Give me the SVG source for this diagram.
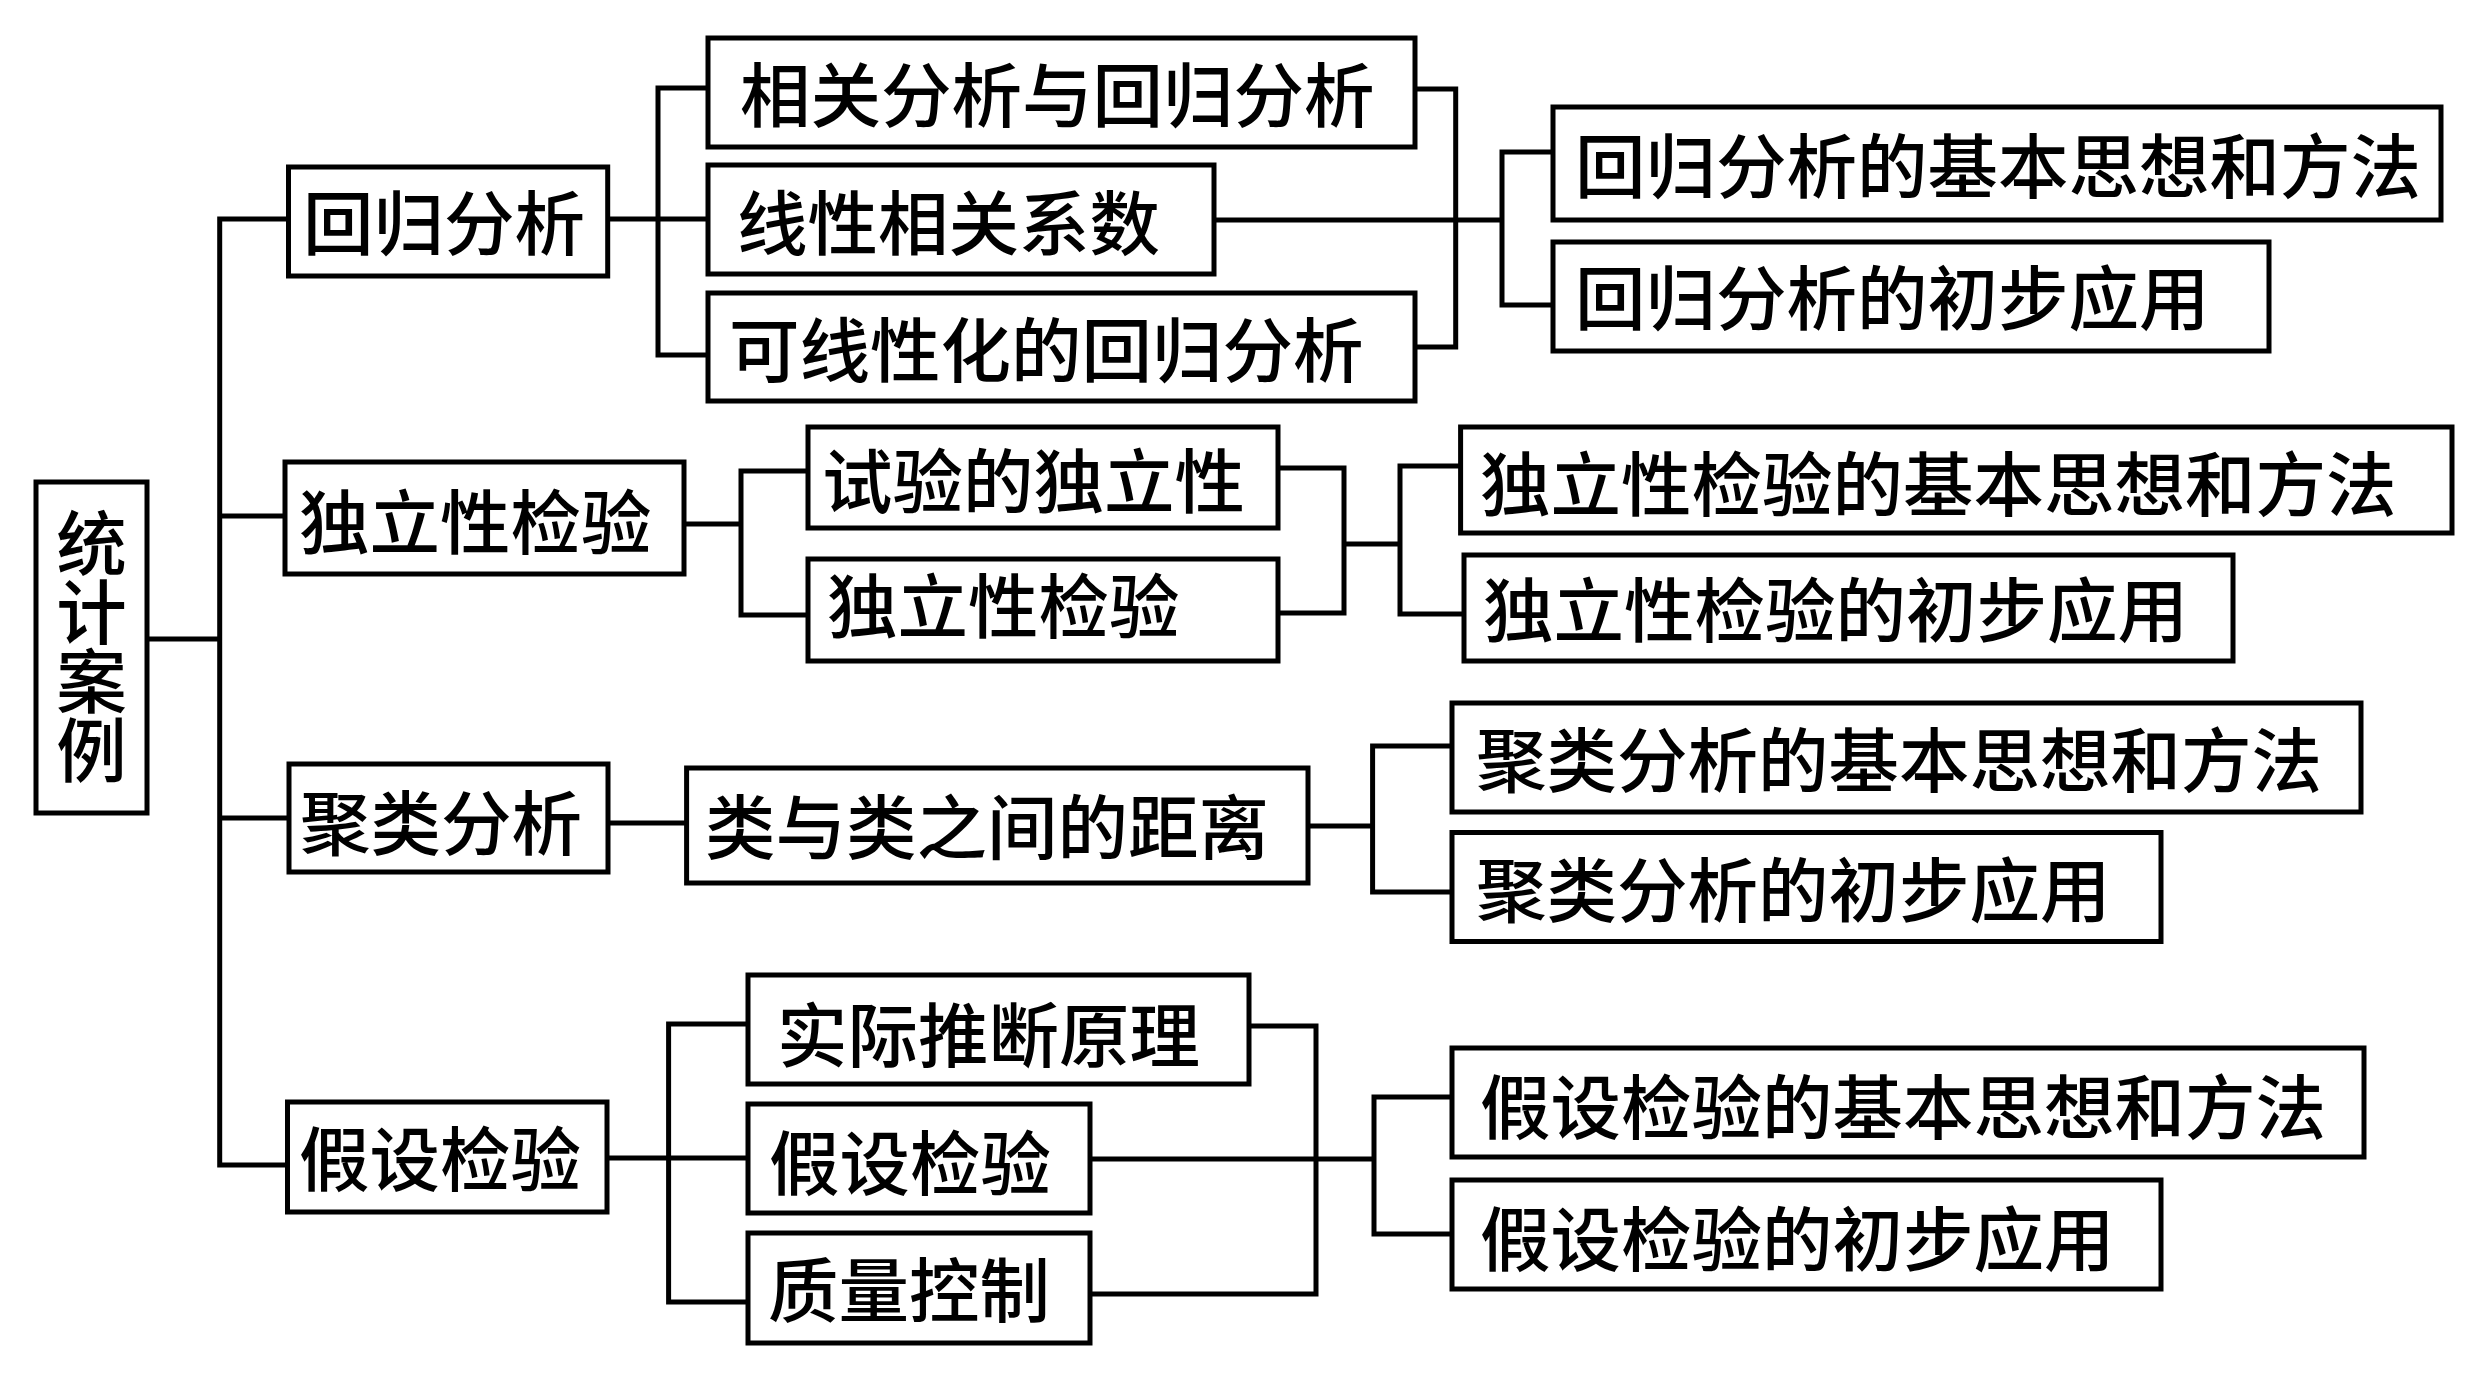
<svg xmlns="http://www.w3.org/2000/svg" width="2480" height="1380" viewBox="0 0 2480 1380">
<style>
.box{fill:#fff;stroke:#000;stroke-width:5}
.t{font-family:"Noto Sans CJK SC","Noto Sans CJK TC",sans-serif;font-size:70.5px;font-weight:500;fill:#000}
.c{fill:none;stroke:#000;stroke-width:5;stroke-linecap:square}
</style>
<rect width="2480" height="1380" fill="#fff"/>
<g id="connectors" class="c">
<path d="M219.7 219V1165M147 639H219.7M219.7 219H288.5M219.7 516H285M219.7 818H289M219.7 1165H287.5"/>
<path d="M607.7 219H708M658 88V355M658 88H708M658 355H708M1415 89H1455.7M1415 347H1455.7M1455.7 89V347M1214 220H1502M1502 152V305M1502 152H1553M1502 305H1553"/>
<path d="M684 524H741M741 471V615M741 471H808M741 615H808M1278 468H1344M1278 613H1344M1344 468V613M1344 544H1400M1400 466V614M1400 466H1460.6M1400 614H1464"/>
<path d="M608 823H686.6M1308 826H1372.6M1372.6 746V892M1372.6 746H1452M1372.6 892H1452"/>
<path d="M607 1158H748M668.6 1024V1302M668.6 1024H748M668.6 1302H748M1249 1026H1316M1090 1294H1316M1316 1026V1294M1090 1159H1374M1374 1097V1234M1374 1097H1452M1374 1234H1452"/>
</g>
<g id="n-root"><rect class="box" x="36" y="482" width="111" height="331"/>
<text class="t" x="91.5" y="508" writing-mode="vertical-rl" text-orientation="upright" letter-spacing="-1.5">统计案例</text></g>
<g id="n-huigui"><rect class="box" x="288.5" y="167" width="319.2" height="109"/><text class="t" x="303" y="250">回归分析</text></g>
<g id="n-duli"><rect class="box" x="285" y="462" width="399" height="112"/><text class="t" x="299" y="549">独立性检验</text></g>
<g id="n-julei"><rect class="box" x="289" y="764" width="319" height="108"/><text class="t" x="300" y="850">聚类分析</text></g>
<g id="n-jiashe"><rect class="box" x="287.5" y="1102" width="319.5" height="110"/><text class="t" x="299" y="1186">假设检验</text></g>
<g id="n-xiangguan"><rect class="box" x="708" y="38" width="707" height="109"/><text class="t" x="740" y="122">相关分析与回归分析</text></g>
<g id="n-xianxing"><rect class="box" x="708" y="165" width="506" height="109"/><text class="t" x="737" y="250">线性相关系数</text></g>
<g id="n-kexianxing"><rect class="box" x="708" y="293" width="707" height="108"/><text class="t" x="729" y="377">可线性化的回归分析</text></g>
<g id="n-hg-jiben"><rect class="box" x="1553" y="107" width="888" height="113"/><text class="t" x="1575" y="193">回归分析的基本思想和方法</text></g>
<g id="n-hg-chubu"><rect class="box" x="1553" y="242" width="716" height="109"/><text class="t" x="1575" y="325">回归分析的初步应用</text></g>
<g id="n-shiyan"><rect class="box" x="808" y="427" width="470" height="101"/><text class="t" x="822" y="508">试验的独立性</text></g>
<g id="n-duli2"><rect class="box" x="808" y="559" width="470" height="102"/><text class="t" x="827" y="633">独立性检验</text></g>
<g id="n-dl-jiben"><rect class="box" x="1460.6" y="427" width="991.4" height="106"/><text class="t" x="1480" y="511">独立性检验的基本思想和方法</text></g>
<g id="n-dl-chubu"><rect class="box" x="1464" y="555" width="769" height="106"/><text class="t" x="1483" y="637">独立性检验的初步应用</text></g>
<g id="n-juli"><rect class="box" x="686.6" y="768" width="621.4" height="115"/><text class="t" x="705" y="854">类与类之间的距离</text></g>
<g id="n-jl-jiben"><rect class="box" x="1452" y="703" width="909" height="109"/><text class="t" x="1476" y="787">聚类分析的基本思想和方法</text></g>
<g id="n-jl-chubu"><rect class="box" x="1452" y="832.5" width="709" height="109"/><text class="t" x="1476" y="917">聚类分析的初步应用</text></g>
<g id="n-shiji"><rect class="box" x="748" y="975" width="501" height="109"/><text class="t" x="777" y="1062">实际推断原理</text></g>
<g id="n-jiashe2"><rect class="box" x="748" y="1104" width="342" height="109"/><text class="t" x="769" y="1190">假设检验</text></g>
<g id="n-zhiliang"><rect class="box" x="748" y="1233" width="342" height="110"/><text class="t" x="768" y="1317">质量控制</text></g>
<g id="n-js-jiben"><rect class="box" x="1452" y="1048" width="912" height="109"/><text class="t" x="1480" y="1134">假设检验的基本思想和方法</text></g>
<g id="n-js-chubu"><rect class="box" x="1452" y="1180" width="709" height="109"/><text class="t" x="1480" y="1266">假设检验的初步应用</text></g>
</svg>
